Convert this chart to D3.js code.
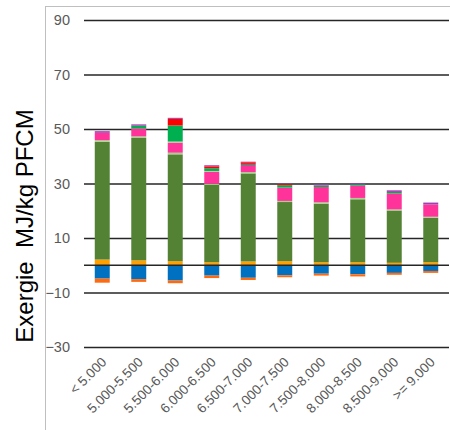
<!DOCTYPE html>
<html><head><meta charset="utf-8">
<script src="https://cdn.jsdelivr.net/npm/d3@7"></script>
<style>body{margin:0;background:#fff}svg{display:block}</style>
</head><body><svg id="c" width="450" height="430"></svg>
<script>
const categories = ["< 5.000","5.000-5.500","5.500-6.000","6.000-6.500","6.500-7.000","7.000-7.500","7.500-8.000","8.000-8.500","8.500-9.000",">= 9.000"];
const orangeVals   = [2.1,1.8,1.5,1.1,1.4,1.5,1.1,1.1,0.9,1.1];
const darkGreenVals= [43.2,44.9,39.2,28.4,32.3,21.7,21.5,23.1,19.2,16.3];
const lightGreenVals=[0.6,0.6,0.6,0.4,0.5,0.4,0.5,0.5,0.4,0.4];
const pinkVals     = [2.7,2.9,3.7,4.4,2.6,4.9,5.6,4.5,5.9,4.5];
const paleGreenVals= [0,0,0.4,0.3,0,0,0,0,0,0];
const greenVals    = [0,1.0,5.9,1.0,0.4,0.9,0.6,0.5,0.5,0];
const redVals      = [0,0,2.4,0.7,0.6,0.4,0,0,0,0];
const purpleVals   = [0.6,0.5,0.4,0.4,0.2,0.2,0.4,0.4,0.6,0.7];
const blueVals     = [-4.9,-5.1,-5.6,-3.8,-4.6,-3.7,-3.1,-3.3,-2.8,-2.1];
const darkOrangeVals=[-1.5,-1.0,-1.0,-0.9,-0.8,-0.7,-0.7,-0.8,-0.7,-0.7];
const yTicks = [90,70,50,30,10,-10,-30];

const seriesKeys = ["orange","darkGreen","lightGreen","pink","paleGreen","green","red","purple","blue","darkOrange"];
const seriesVals = [orangeVals,darkGreenVals,lightGreenVals,pinkVals,paleGreenVals,greenVals,redVals,purpleVals,blueVals,darkOrangeVals];
const colors = {orange:"#FF9F00",darkGreen:"#548235",lightGreen:"#A9D18E",pink:"#FF3399",paleGreen:"#A9D18E",green:"#00B050",red:"#FF0000",purple:"#A040B0",blue:"#0070C0",darkOrange:"#FF6A10"};

const table = categories.map((c,i)=>{const o={cat:c};seriesKeys.forEach((k,j)=>o[k]=seriesVals[j][i]);return o;});

const svg = d3.select("#c");
const x = d3.scaleBand().domain(categories).range([84,449]).paddingInner(0.59).paddingOuter(0.295);
const y = d3.scaleLinear().domain([-30,90]).range([347,20]);

// frame
svg.append("line").attr("x1",45.5).attr("x2",45.5).attr("y1",6).attr("y2",430).attr("stroke","#BFBFBF");
svg.append("line").attr("x1",45).attr("x2",450).attr("y1",6.5).attr("y2",6.5).attr("stroke","#BFBFBF");

// y axis with gridlines
const yAxis = svg.append("g").attr("transform","translate(84,0)")
  .call(d3.axisLeft(y).tickValues(yTicks).tickSize(-365).tickFormat(d3.format("d")));
yAxis.select(".domain").remove();
yAxis.selectAll(".tick line").attr("stroke","#262626").attr("stroke-width",1.3);
yAxis.selectAll(".tick text").attr("x",-14).attr("fill","#595959").attr("font-size",14.5).attr("font-family","Liberation Sans, Arial, sans-serif");

const stack = d3.stack().keys(seriesKeys).offset(d3.stackOffsetDiverging)(table);
svg.append("g").selectAll("g").data(stack).join("g").attr("fill",d=>colors[d.key])
  .selectAll("rect").data(d=>d).join("rect")
  .attr("x",d=>x(d.data.cat)).attr("width",x.bandwidth())
  .attr("y",d=>y(Math.max(d[0],d[1]))).attr("height",d=>Math.abs(y(d[0])-y(d[1])));

// zero line
svg.append("line").attr("x1",84).attr("x2",449).attr("y1",y(0)).attr("y2",y(0)).attr("stroke","#262626").attr("stroke-width",1.3);

// x labels
svg.append("g").selectAll("text").data(categories).join("text")
  .attr("transform",d=>`translate(${x(d)+x.bandwidth()/2+5},363) rotate(-45)`)
  .attr("text-anchor","end").attr("fill","#595959").attr("font-size",13.5)
  .attr("font-family","Liberation Sans, Arial, sans-serif").text(d=>d);

// y title
svg.append("text").attr("transform","translate(33,226) rotate(-90)").attr("text-anchor","middle")
  .attr("font-size",24).attr("fill","#000").attr("font-family","Liberation Sans, Arial, sans-serif")
  .attr("xml:space","preserve").style("white-space","pre").text("Exergie  MJ/kg PFCM");
</script></body></html>
